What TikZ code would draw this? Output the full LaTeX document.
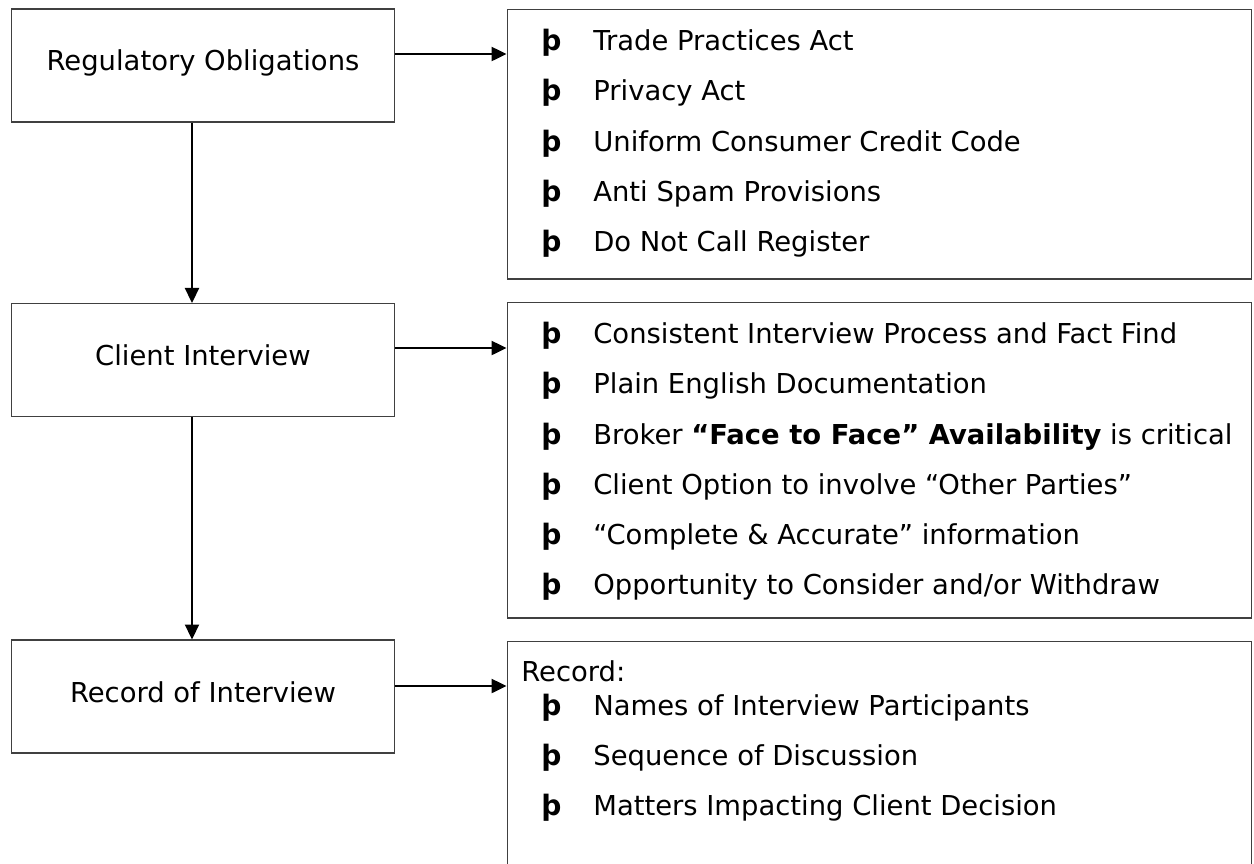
\documentclass[tikz,border=0pt]{standalone}
\usepackage{fontspec}
\setmainfont{DejaVu Sans}
\usetikzlibrary{arrows.meta}
\begin{document}
\begin{tikzpicture}[x=0.02cm,y=-0.02cm,
  every node/.style={font=\fontsize{15.6pt}{18pt}\selectfont},
  lbox/.style={draw=black!75, line width=0.6pt, minimum width=7.68cm, minimum height=2.26cm, inner sep=0pt},
  rbox/.style={draw=black!75, line width=0.6pt, minimum width=14.9cm, inner sep=0pt},
  bul/.style={anchor=base west, inner sep=0pt, font=\fontsize{16pt}{18pt}\selectfont\bfseries},
  itm/.style={anchor=base west, inner sep=0pt},
  arr/.style={line width=1.3pt, -{Triangle[length=0.3cm, width=0.28cm]}}]
\useasboundingbox (0,0) rectangle (1254,863);
\clip (0,0) rectangle (1254,863);
% left boxes
\node[lbox] (b1) at (203,65.5) {};
\node[lbox] (b2) at (203,360) {};
\node[lbox] (b3) at (203,696.5) {};
\node[anchor=base, inner sep=0pt] (t1) at (203,70) {Regulatory Obligations};
\node[anchor=base, inner sep=0pt] (t2) at (203,365) {Client Interview};
\node[anchor=base, inner sep=0pt] (t3) at (203,702) {Record of Interview};
% right boxes
\node[rbox, minimum height=5.4cm] (r1) at (879.5,144) {};
\node[rbox, minimum height=6.32cm] (r2) at (879.5,460) {};
\node[rbox, minimum height=4.7cm] (r3) at (879.5,758.5) {};
% box 1 items
\foreach \y/\t [count=\i] in {50/Trade Practices Act, 100.5/Privacy Act, 151/Uniform Consumer Credit Code, 201/Anti Spam Provisions, 251.5/Do Not Call Register}{
  \node[bul] (ba\i) at (541,\y) {þ};
  \node[itm] (ia\i) at (593,\y) {\t};
}
% box 2 items
\node[bul] (bb1) at (541,343) {þ};
\node[itm] (ib1) at (593,343) {Consistent Interview Process and Fact Find};
\node[bul] (bb2) at (541,393) {þ};
\node[itm] (ib2) at (593,393) {Plain English Documentation};
\node[bul] (bb3) at (541,444) {þ};
\node[itm] (ib3) at (593,444) {Broker \textbf{“Face to Face” Availability} is critical};
\node[bul] (bb4) at (541,494) {þ};
\node[itm] (ib4) at (593,494) {Client Option to involve “Other Parties”};
\node[bul] (bb5) at (541,544) {þ};
\node[itm] (ib5) at (593,544) {“Complete \& Accurate” information};
\node[bul] (bb6) at (541,594) {þ};
\node[itm] (ib6) at (593,594) {Opportunity to Consider and/or Withdraw};
% box 3 items
\node[itm] (rec) at (521,681) {Record:};
\node[bul] (bc1) at (541,715) {þ};
\node[itm] (ic1) at (593,715) {Names of Interview Participants};
\node[bul] (bc2) at (541,765) {þ};
\node[itm] (ic2) at (593,765) {Sequence of Discussion};
\node[bul] (bc3) at (541,815) {þ};
\node[itm] (ic3) at (593,815) {Matters Impacting Client Decision};
% arrows
\draw[arr] (b1.east |- 0,54) -- (r1.west |- 0,54);
\draw[arr] (b2.east |- 0,348) -- (r2.west |- 0,348);
\draw[arr] (b3.east |- 0,686) -- (r3.west |- 0,686);
\draw[arr] (b1.south -| 192,0) -- (b2.north -| 192,0);
\draw[arr] (b2.south -| 192,0) -- (b3.north -| 192,0);
\end{tikzpicture}
\end{document}
